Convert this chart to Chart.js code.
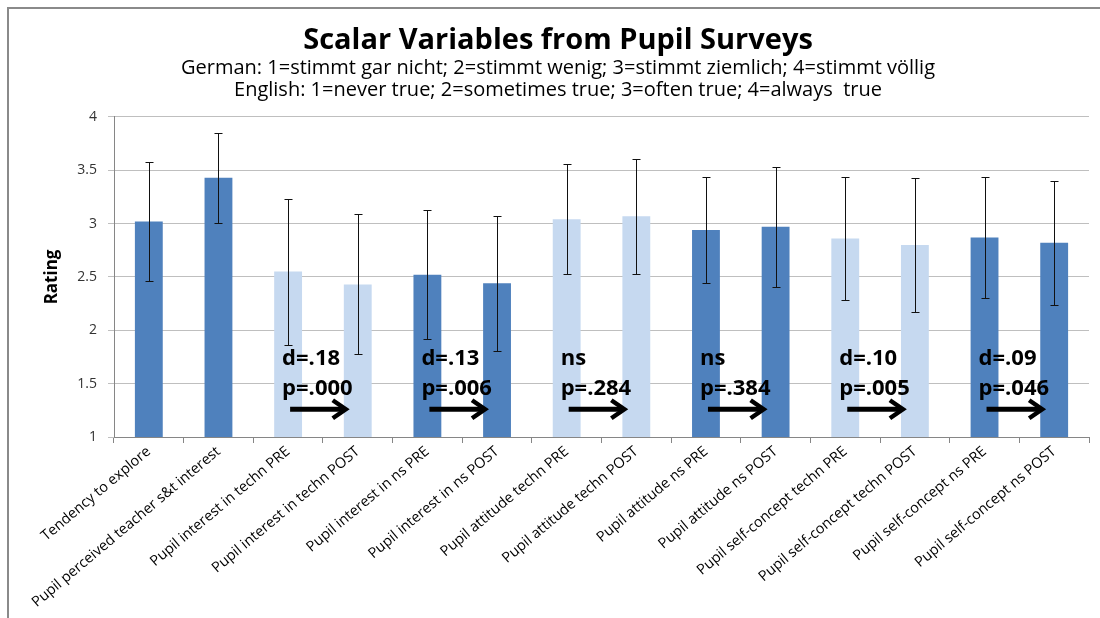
<!DOCTYPE html>
<html>
<head>
<meta charset="utf-8">
<script src="https://cdn.jsdelivr.net/npm/chart.js@4.4.1/dist/chart.umd.min.js"></script>
<style>
  html, body { margin: 0; padding: 0; background: #fff; overflow: hidden; }
  #frame { position: absolute; left: 7px; top: 7px; width: 1200px; height: 700px; border: 2px solid #8a8a8a; box-sizing: border-box; }
  #chart { position: absolute; left: 0; top: 0; }
</style>
</head>
<body>
<div id="frame"></div>
<canvas id="chart" width="1100" height="618"></canvas>
<script>
// Scalar variables from pupil surveys
const categories = [
  'Tendency to explore',
  'Pupil perceived teacher s&t interest',
  'Pupil interest in techn PRE',
  'Pupil interest in techn POST',
  'Pupil interest in ns PRE',
  'Pupil interest in ns POST',
  'Pupil attitude techn PRE',
  'Pupil attitude techn POST',
  'Pupil attitude ns PRE',
  'Pupil attitude ns POST',
  'Pupil self-concept techn PRE',
  'Pupil self-concept techn POST',
  'Pupil self-concept ns PRE',
  'Pupil self-concept ns POST'
];
const means   = [3.02, 3.43, 2.55, 2.43, 2.52, 2.44, 3.04, 3.07, 2.94, 2.97, 2.86, 2.80, 2.87, 2.82];
const errLow  = [2.46, 3.01, 1.86, 1.78, 1.92, 1.81, 2.53, 2.53, 2.44, 2.41, 2.28, 2.17, 2.30, 2.24];
const errHigh = [3.58, 3.85, 3.23, 3.09, 3.13, 3.07, 3.56, 3.61, 3.44, 3.53, 3.44, 3.43, 3.44, 3.40];
// 0 = dark blue, 1 = light blue
const shade = [0, 0, 1, 1, 0, 0, 1, 1, 0, 0, 1, 1, 0, 0];

// significance notes: drawn from PRE bar towards POST bar
const noteFrom  = [2, 4, 6, 8, 10, 12];
const noteLine1 = ['d=.18', 'd=.13', 'ns', 'ns', 'd=.10', 'd=.09'];
const noteLine2 = ['p=.000', 'p=.006', 'p=.284', 'p=.384', 'p=.005', 'p=.046'];

const colors = ['#4f81bd', '#c6d9f0'];
const FONT = '"Open Sans", sans-serif';

const errorBars = {
  id: 'errorBars',
  afterDatasetsDraw(chart) {
    const ctx = chart.ctx;
    const y = chart.scales.y;
    const meta = chart.getDatasetMeta(0);
    ctx.save();
    ctx.strokeStyle = '#111';
    ctx.lineWidth = 1;
    meta.data.forEach((bar, i) => {
      const x = Math.round(bar.x) + 0.5;
      const yLo = Math.round(y.getPixelForValue(errLow[i])) + 0.5;
      const yHi = Math.round(y.getPixelForValue(errHigh[i])) + 0.5;
      ctx.beginPath();
      ctx.moveTo(x, yLo); ctx.lineTo(x, yHi);
      ctx.moveTo(x - 4, yLo); ctx.lineTo(x + 4, yLo);
      ctx.moveTo(x - 4, yHi); ctx.lineTo(x + 4, yHi);
      ctx.stroke();
    });
    ctx.restore();
  }
};

const notes = {
  id: 'notes',
  afterDatasetsDraw(chart) {
    const ctx = chart.ctx;
    const xs = chart.scales.x, ys = chart.scales.y;
    ctx.save();
    ctx.fillStyle = '#000';
    ctx.font = 'bold 22px ' + FONT;
    ctx.textBaseline = 'middle';
    noteFrom.forEach((idx, k) => {
      const x0 = xs.getPixelForValue(idx);
      const x1 = xs.getPixelForValue(idx + 1);
      ctx.fillText(noteLine1[k], x0 - 6, ys.getPixelForValue(1.73));
      ctx.fillText(noteLine2[k], x0 - 6, ys.getPixelForValue(1.45));
      // arrow
      const ay = ys.getPixelForValue(1.26);
      const ax0 = x0 + 2, ax1 = x1 - 12;
      ctx.strokeStyle = '#000';
      ctx.lineWidth = 5;
      ctx.beginPath();
      ctx.moveTo(ax0, ay); ctx.lineTo(ax1 - 2, ay);
      ctx.stroke();
      ctx.lineWidth = 4.5;
      ctx.beginPath();
      ctx.moveTo(ax1 - 13, ay - 9);
      ctx.lineTo(ax1, ay);
      ctx.lineTo(ax1 - 13, ay + 9);
      ctx.stroke();
    });
    ctx.restore();
  }
};

new Chart(document.getElementById('chart'), {
  type: 'bar',
  data: {
    labels: categories,
    datasets: [{
      data: means,
      backgroundColor: shade.map(s => colors[s]),
      borderWidth: 0,
      barPercentage: 0.4,
      categoryPercentage: 1.0
    }]
  },
  options: {
    responsive: false,
    animation: false,
    layout: { padding: { left: 27, right: 11, top: 0, bottom: 0 } },
    plugins: {
      legend: { display: false },
      tooltip: { enabled: false },
      title: {
        display: true,
        text: 'Scalar Variables from Pupil Surveys',
        color: '#000',
        font: { family: FONT, size: 29, weight: 'bold', lineHeight: 1.1 },
        padding: { top: 25, bottom: 0 }
      },
      subtitle: {
        display: true,
        text: ['German: 1=stimmt gar nicht; 2=stimmt wenig; 3=stimmt ziemlich; 4=stimmt völlig',
               'English: 1=never true; 2=sometimes true; 3=often true; 4=always  true'],
        color: '#000',
        font: { family: FONT, size: 20, lineHeight: 1.1 },
        padding: { top: 0, bottom: 16 }
      }
    },
    scales: {
      x: {
        grid: { drawOnChartArea: false, tickLength: 6, color: '#868686' },
        border: { color: '#868686' },
        ticks: { color: '#000', font: { family: FONT, size: 14.5 }, maxRotation: 40, minRotation: 40, autoSkip: false, padding: 0 },
        afterFit(scale) { scale.height = 181; }
      },
      y: {
        min: 1,
        max: 4,
        ticks: { stepSize: 0.5, color: '#333', font: { family: FONT, size: 14 }, padding: 11, callback: v => String(v) },
        grid: { color: '#bfbfbf', tickLength: 6 },
        border: { color: '#868686' },
        title: { display: true, text: 'Rating', color: '#000', font: { family: FONT, size: 17, weight: 'bold' }, padding: { top: 15, bottom: 0 } },
        afterFit(scale) { scale.width = 87; }
      }
    }
  },
  plugins: [errorBars, notes]
});
</script>
</body>
</html>
